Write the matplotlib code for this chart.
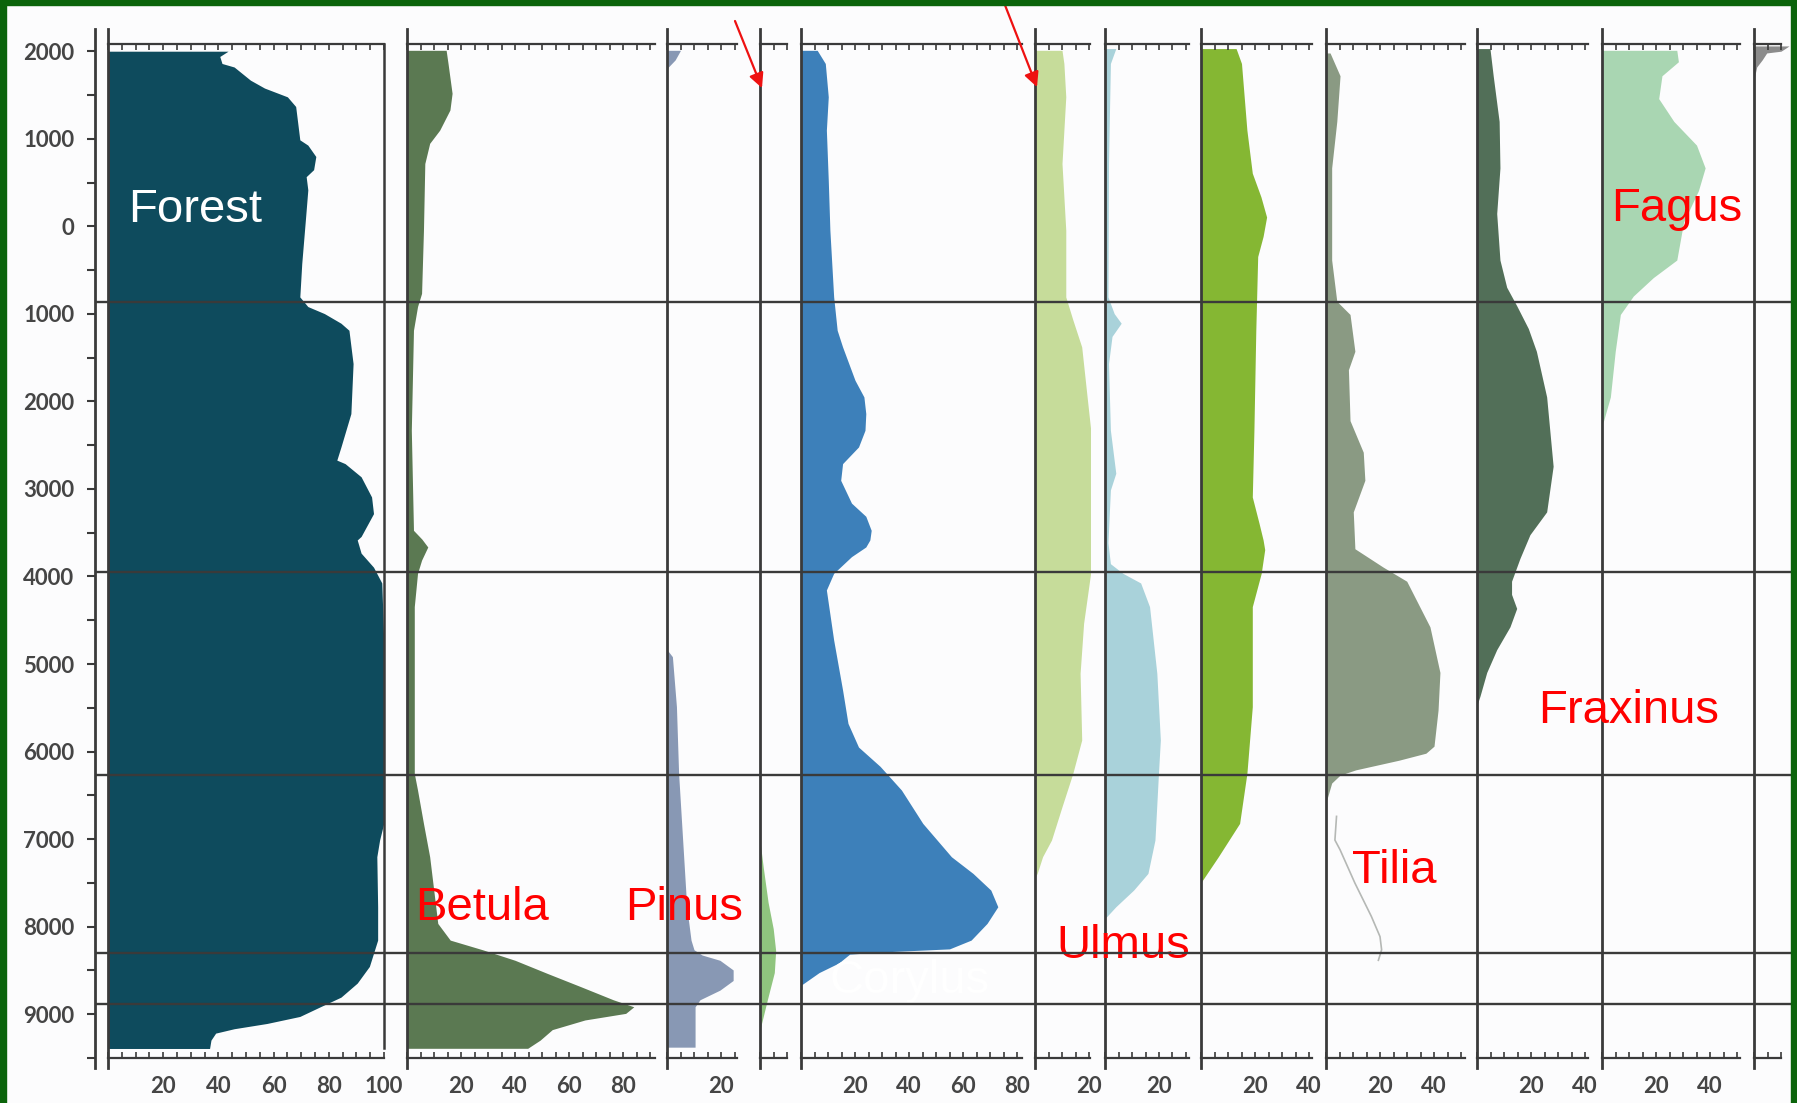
import matplotlib
matplotlib.use('Agg')
import matplotlib.pyplot as plt
import numpy as np
from matplotlib.patches import Rectangle

# Ages in years BC (negative = AD), values in percent
forest_age = [-2000, -1940, -1860, -1820, -1670, -1580, -1480, -1370, -990, -930,
              -800, -650, -570, -420, -110, 420, 800, 910, 990, 1100,
              1180, 1560, 2130, 2510, 2660, 2700, 2850, 3080, 3270, 3530,
              3570, 3720, 3880, 4060, 4710, 6800, 6990, 7180, 7750, 8130,
              8430, 8620, 8780, 8890, 9000, 9080, 9140, 9190, 9270, 9365]
forest_pct = [43.5, 40.5, 41.3, 45.7, 51.6, 56.7, 65, 68, 69.5, 72.4,
              75.3, 74.5, 71.8, 72.4, 71.6, 70.2, 69.5, 72.4, 78.4, 84.4,
              87.3, 88.8, 88, 84.4, 82.9, 85.9, 91.7, 95.5, 96.2, 91.7,
              90.3, 91.7, 96.2, 99.2, 99.9, 99.9, 98.4, 97.4, 97.7, 97.7,
              94.7, 90.3, 84.4, 76.9, 69.5, 57.6, 45.7, 39, 37.3, 36.8]

betula_age = [-2010, -1860, -1520, -1330, -1100, -950, -720, 40, 760, 910,
              1180, 2320, 3460, 3560, 3650, 3800, 3950, 4330, 6230, 6420,
              6800, 7180, 7560, 7940, 8130, 8240, 8360, 8510, 8660, 8810,
              8890, 8965, 9040, 9150, 9270, 9363]
betula_pct = [14.5, 15.2, 16.7, 15.9, 12.1, 8.4, 6.6, 6.1, 5.4, 3.9,
              2.4, 1.6, 2.4, 5.5, 7.7, 5.4, 3.9, 2.7, 2.7, 3.9,
              6.1, 8.4, 9.9, 11.4, 16, 28, 40, 52, 64.3, 76.4,
              84, 81, 65.9, 53.8, 49.3, 44.7]

pinus_age = [-2010, -1900, -1820, -1780, 4820, 4900, 5470, 6230, 6990, 7750,
             8130, 8240, 8300, 8360, 8470, 8590, 8700, 8810, 8890, 9350]
pinus_pct = [5, 3, 0.5, 0, 0, 2, 3.5, 4.3, 5.8, 7.3,
             8.9, 10, 13, 19.6, 24.5, 24.5, 19.6, 12.2, 10.4, 10.4]

picea_age = [7000, 7300, 7700, 8000, 8250, 8500, 8800, 9150]
picea_pct = [0, 1.2, 3, 4.9, 5.8, 5.3, 2.8, 0]

corylus_age = [-2010, -1860, -1480, -1100, -530, 40, 800, 1180, 1370, 1750,
               1940, 2130, 2320, 2510, 2700, 2890, 3150, 3300, 3460, 3570,
               3650, 3760, 3950, 4140, 4710, 5280, 5660, 5930, 6150, 6420,
               6800, 7180, 7370, 7560, 7750, 7940, 8130, 8230, 8265, 8290,
               8390, 8500, 8640]
corylus_pct = [6, 9, 10.1, 9.4, 10.1, 10.7, 12.1, 13.4, 15.4, 20,
               23.3, 24, 23.7, 21.3, 15.4, 14.7, 18.7, 24, 26, 25.5,
               24, 18.7, 12.1, 9.4, 12.1, 15.4, 17.4, 21.3, 29.3, 37.2,
               45.1, 55.7, 63.7, 70.3, 72.9, 68.9, 63, 55, 30, 18,
               14, 6.7, 0.2]

quercus_age = [-2010, -1860, -1480, -720, 40, 800, 1060, 1370, 1940, 2700,
               3600, 3950, 4520, 5090, 5850, 6230, 6610, 6990, 7180, 7370, 7420]
quercus_pct = [10, 10.7, 11.4, 10, 11.4, 11.4, 14, 17.3, 19.3, 22,
               23.3, 20.6, 18, 16.7, 17.3, 14, 10, 6.1, 2.8, 0.8, 0]

ulmus_age = [-2030, -1860, -720, 800, 990, 1100, 1250, 1560, 2320, 2810,
             3000, 3600, 3840, 3950, 4060, 4330, 5090, 5850, 6230, 6990,
             7370, 7560, 7750, 7860, 7880]
ulmus_pct = [4, 2, 1.3, 1.1, 3.4, 6, 2.6, 1.3, 2, 4,
             2, 1.1, 2, 6.6, 13.2, 16.5, 19.2, 20.5, 19.8, 18.5,
             15.9, 10.6, 4, 0.7, 0]

alnus_age = [-2030, -1860, -1100, -610, -340, -110, 110, 340, 1180, 2320,
             3080, 3380, 3570, 3680, 3950, 4330, 5470, 6230, 6800, 7180,
             7450, 7480]
alnus_pct = [13, 15, 17, 19, 22.2, 24.3, 23, 21, 20.3, 19.6,
             19, 21.5, 23, 23.6, 22.3, 19, 19, 17, 14.3, 6.4,
             0.5, 0]

tilia_age = [-1980, -1720, -1200, -670, 380, 850, 1000, 1420, 1630, 2210,
             2570, 2890, 3250, 3670, 3880, 4040, 4560, 5080, 5510, 5920,
             6000, 6080, 6190, 6250, 6340, 6530]
tilia_pct = [1.5, 5.2, 4, 2.1, 2.1, 4, 8.9, 10.7, 8.3, 8.9,
             13.8, 14.4, 10.1, 10.7, 21.2, 29.9, 38.5, 42.2, 41.5, 40,
             37, 27, 11, 5.2, 2.1, 0.3]
# exaggerated outline below the Tilia curve
tilia_x10_age = [6720, 6990, 7100, 7480, 7860, 8090, 8240, 8360]
tilia_x10_pct = [3.9, 3.3, 5.2, 10.7, 16.8, 20, 20.6, 19.4]

fraxinus_age = [-2030, -1720, -1200, -670, -150, 380, 690, 900, 1160, 1420,
                1940, 2730, 2990, 3250, 3510, 3780, 4040, 4190, 4350, 4560,
                4820, 5080, 5350, 5450]
fraxinus_pct = [4.8, 6, 8.2, 8.5, 7.3, 8.5, 11, 14.7, 19, 22,
                25.8, 28.2, 27, 25.8, 19.6, 15.9, 12.8, 12.8, 14.7, 12.2,
                7.3, 3.6, 1.1, 0]

fagus_age = [-2010, -1880, -1720, -1460, -1200, -930, -670, -410, -50, 380,
             580, 790, 1000, 1420, 1940, 2210, 2250]
fagus_pct = [27.7, 28.3, 22.2, 21, 26.6, 35, 38.2, 35.7, 30.2, 27.7,
             19, 11.6, 6.8, 4.9, 3.1, 0.6, 0]

carpinus_age = [-2060, -2000, -1980, -1900, -1820, -1680]
carpinus_pct = [13, 10, 4.7, 3, 1, 0]

zone_ages = [870, 3950, 6270, 8300, 8880]

age_ticks = [-2000, -1000, 0, 1000, 2000, 3000, 4000, 5000, 6000, 7000, 8000, 9000]
age_labels = ['2000', '1000', '0', '1000', '2000', '3000', '4000',
              '5000', '6000', '7000', '8000', '9000']

# name, left px, scale max, px per unit, colour, ages, values, bottom labels
panels = [
    ('Forest', 108, 100, 2.76, '#0e4b5d', forest_age, forest_pct, [20, 40, 60, 80, 100]),
    ('Betula', 407, 92, 2.7, '#5b7952', betula_age, betula_pct, [20, 40, 60, 80]),
    ('Pinus', 667, 26, 2.7, '#8898b4', pinus_age, pinus_pct, [20]),
    ('Picea', 760, 10, 2.7, '#8fc47e', picea_age, picea_pct, []),
    ('Corylus', 801, 82, 2.7, '#3d80ba', corylus_age, corylus_pct, [20, 40, 60, 80]),
    ('Quercus', 1035, 20.5, 2.7, '#c6dc9a', quercus_age, quercus_pct, [20]),
    ('Ulmus', 1105, 31, 2.7, '#a9d2da', ulmus_age, ulmus_pct, [20]),
    ('Alnus', 1201, 41, 2.7, '#85b733', alnus_age, alnus_pct, [20, 40]),
    ('Tilia', 1326, 51.5, 2.7, '#8a9a83', tilia_age, tilia_pct, [20, 40]),
    ('Fraxinus', 1477, 41, 2.7, '#526f58', fraxinus_age, fraxinus_pct, [20, 40]),
    ('Fagus', 1602, 51, 2.7, '#a9d6b2', fagus_age, fagus_pct, [20, 40]),
    ('Carpinus', 1754, 10, 2.7, '#8c8c8c', carpinus_age, carpinus_pct, []),
]

W, H = 1797, 1103
Y0, PX_PER_YR = 226.7, 0.08775
TOP, BOTTOM = 44, 1058
INK = '#3a3a3a'
tick_font = dict(family='Lato', weight='bold', size=16, color='#454545')
name_font = dict(family='Liberation Sans', size=34)


def age_at(py):
    return (py - Y0) / PX_PER_YR


def px_axes(left, right, top, bottom, **kw):
    return fig.add_axes([left / W, 1 - bottom / H, (right - left) / W, (bottom - top) / H], **kw)


fig = plt.figure(figsize=(W / 100, H / 100), dpi=100)
fig.patch.set_facecolor('#fcfcfd')

for name, left, xmax, scale, colour, ages, vals, labels in panels:
    ax = px_axes(left, left + xmax * scale, TOP, BOTTOM)
    ax.set_facecolor('none')
    ax.fill_betweenx(ages, 0, vals, color=colour, lw=0,
                     clip_on=(name != 'Carpinus'))
    if name == 'Tilia':
        ax.plot(tilia_x10_pct, tilia_x10_age, color='#b5b8b5', lw=1.2)
    if name == 'Forest':
        ax.axvline(100, ymin=0.01, color=INK, lw=1.8, clip_on=False)
    ax.set_xlim(0, xmax)
    ax.set_ylim(age_at(BOTTOM), age_at(TOP))
    ax.spines['right'].set_visible(False)
    for side in ('top', 'bottom'):
        ax.spines[side].set_color(INK)
        ax.spines[side].set_linewidth(1.6)
    ax.spines['left'].set_color(INK)
    ax.spines['left'].set_linewidth(2.0)
    ax.spines['left'].set_bounds(age_at(1068), age_at(29))
    ax.set_yticks([])
    ticks = np.arange(0, xmax + 0.01, 5)
    ax.set_xticks(ticks)
    ax.set_xticklabels([str(int(t)) if t in labels else '' for t in ticks], **tick_font)
    ax.tick_params(axis='x', which='both', direction='in', length=4, width=1.2,
                   color=INK, top=True, pad=13)

# overlay axis carrying the age scale and zone boundaries
ax0 = px_axes(95, 1791, TOP, BOTTOM, zorder=5)
ax0.set_facecolor('none')
ax0.set_xlim(0, 1)
ax0.set_ylim(age_at(BOTTOM), age_at(TOP))
for side in ('top', 'right', 'bottom'):
    ax0.spines[side].set_visible(False)
ax0.spines['left'].set_color(INK)
ax0.spines['left'].set_linewidth(2.0)
ax0.spines['left'].set_bounds(age_at(1070), age_at(29))
ax0.set_xticks([])
ax0.set_yticks(age_ticks)
ax0.set_yticklabels(age_labels, **tick_font)
ax0.set_yticks(np.array(age_ticks) + 500, minor=True)
ax0.tick_params(axis='y', which='both', direction='out', length=6, width=1.5,
                color=INK, pad=9)
for a in zone_ages:
    ax0.axhline(a, color=INK, lw=1.7)

# taxon names
fig.text(128 / W, 1 - 222 / H, 'Forest', color='white', ha='left', va='baseline', **name_font)
fig.text(830 / W, 1 - 993 / H, 'Corylus', color='white', ha='left', va='baseline', **name_font)
for txt, x, y in [('Betula', 415, 920), ('Pinus', 625, 920), ('Ulmus', 1056, 958),
                  ('Tilia', 1352, 883), ('Fraxinus', 1538, 723), ('Fagus', 1611, 221)]:
    fig.text(x / W, 1 - y / H, txt, color='#ff0000', ha='left', va='baseline', **name_font)

# red pointer arrows
for (x0, y0), (x1, y1) in [((735, 21), (762, 88)), ((1003, 0), (1037, 87))]:
    ax0.annotate('', xy=(x1, H - y1), xytext=(x0, H - y0),
                 xycoords='figure pixels', textcoords='figure pixels',
                 annotation_clip=False,
                 arrowprops=dict(arrowstyle='-|>', color='#ee1111', lw=1.6,
                                 mutation_scale=22, shrinkA=0, shrinkB=0))

# dark green frame
frame = '#0b640b'
for rect in [(0, 0, 6 / W, 1), (0, 1 - 5 / H, 1, 5 / H), (1 - 6 / W, 0, 6 / W, 1)]:
    fig.add_artist(Rectangle(rect[:2], rect[2], rect[3], transform=fig.transFigure,
                             color=frame, zorder=20))

fig.savefig('out.png', dpi=100, facecolor=fig.get_facecolor())
